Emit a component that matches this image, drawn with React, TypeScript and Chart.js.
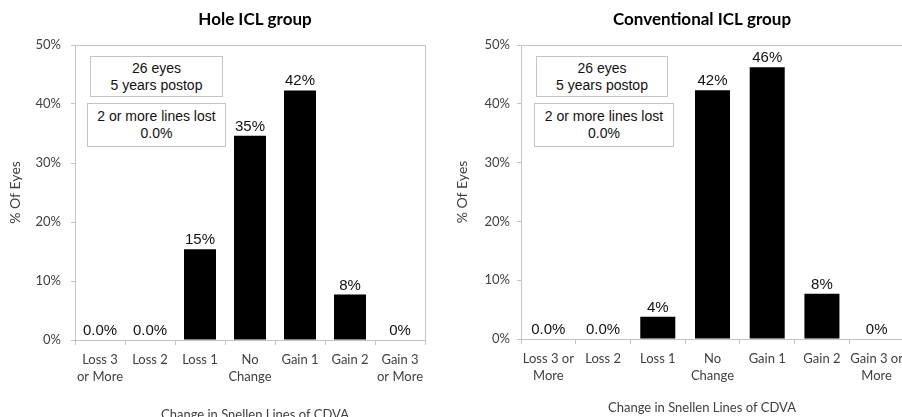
import React, { useEffect, useRef } from "react";
import { Chart, registerables } from "chart.js";

Chart.register(...registerables);

// ---- data ----
const holeCategories: string[][] = [
  ["Loss 3", "or More"],
  ["Loss 2"],
  ["Loss 1"],
  ["No", "Change"],
  ["Gain 1"],
  ["Gain 2"],
  ["Gain 3", "or More"],
];
const convCategories: string[][] = [
  ["Loss 3 or", "More"],
  ["Loss 2"],
  ["Loss 1"],
  ["No", "Change"],
  ["Gain 1"],
  ["Gain 2"],
  ["Gain 3 or", "More"],
];
const holeValues = [0, 0, 15.4, 34.6, 42.3, 7.7, 0];
const convValues = [0, 0, 3.8, 42.3, 46.2, 7.7, 0];
const holeValueLabels = ["0.0%", "0.0%", "15%", "35%", "42%", "8%", "0%"];
const convValueLabels = ["0.0%", "0.0%", "4%", "42%", "46%", "8%", "0%"];
const yMin = 0;
const yMax = 50;
const yStep = 10;
const holeTitle = "Hole ICL group";
const convTitle = "Conventional ICL group";
const xAxisTitle = "Change in Snellen Lines of CDVA";
const yAxisTitle = "% Of Eyes";
const boxEyes = ["26 eyes", "5 years postop"];
const boxLost = ["2 or more lines lost", "0.0%"];

const GRAY = "#c4c4c4";
const TEXT = "#404040";

const valueLabelPlugin = {
  id: "valueLabels",
  afterDatasetsDraw(chart: any, _args: any, opts: any) {
    const { ctx } = chart;
    const meta = chart.getDatasetMeta(0);
    ctx.save();
    ctx.font = '15px "Liberation Sans", Arial, sans-serif';
    ctx.fillStyle = "#111";
    ctx.textAlign = "center";
    ctx.textBaseline = "alphabetic";
    meta.data.forEach((bar: any, i: number) => {
      ctx.fillText(opts.labels[i], bar.x, bar.y - 5);
    });
    ctx.restore();
  },
};

type PanelProps = {
  left: number;
  width: number;
  height: number;
  title: string;
  categories: string[][];
  values: number[];
  valueLabels: string[];
  yAxisWidth: number;
  rightInset: number;
  yTickPad: number;
  yTitlePad: number;
  xHeight: number;
  subPad: number;
};

function Panel(p: PanelProps) {
  const ref = useRef<HTMLCanvasElement | null>(null);
  useEffect(() => {
    if (!ref.current) return;
    const chart = new Chart(ref.current, {
      type: "bar",
      data: {
        labels: p.categories,
        datasets: [
          {
            data: p.values,
            backgroundColor: "#000",
            borderWidth: 0,
            categoryPercentage: 1,
            barPercentage: 0.64,
          },
        ],
      },
      plugins: [valueLabelPlugin],
      options: {
        responsive: false,
        animation: false,
        layout: { padding: 0 },
        plugins: {
          legend: { display: false },
          tooltip: { enabled: false },
          title: {
            display: true,
            text: p.title,
            color: "#000",
            font: { family: "Lato, sans-serif", size: 17, weight: "bold", lineHeight: 1.2 },
            padding: { top: 9.8, bottom: 14.8 },
          },
          subtitle: {
            display: true,
            position: "bottom",
            text: xAxisTitle,
            color: TEXT,
            font: { family: "Lato, sans-serif", size: 13, lineHeight: 1.2 },
            padding: { top: 0, bottom: p.subPad },
          },
          valueLabels: { labels: p.valueLabels },
        } as any,
        scales: {
          x: {
            grid: {
              display: true,
              offset: true,
              drawOnChartArea: false,
              tickLength: 5,
              tickColor: GRAY,
            },
            border: { display: true, color: GRAY },
            ticks: {
              color: TEXT,
              font: { family: "Lato, sans-serif", size: 13, lineHeight: 17 / 13 },
              padding: 6,
              maxRotation: 0,
              autoSkip: false,
            },
            afterFit: (s: any) => {
              s.height = p.xHeight;
            },
          },
          y: {
            min: yMin,
            max: yMax,
            ticks: {
              stepSize: yStep,
              color: TEXT,
              padding: p.yTickPad,
              font: { family: "Lato, sans-serif", size: 13 },
              callback: (v: any) => v + "%",
            },
            grid: {
              display: true,
              tickLength: 4,
              tickColor: GRAY,
              color: (c: any) => (c.tick && c.tick.value === yMax ? GRAY : "rgba(0,0,0,0)"),
            },
            border: { display: true, color: GRAY },
            title: {
              display: true,
              text: yAxisTitle,
              color: TEXT,
              font: { family: "Lato, sans-serif", size: 14, lineHeight: 1.2 },
              padding: { top: p.yTitlePad, bottom: 0 },
            },
            afterFit: (s: any) => {
              s.width = p.yAxisWidth;
            },
          },
          yRight: {
            type: "linear",
            position: "right",
            display: true,
            grid: { display: false },
            ticks: { display: false },
            border: { display: true, color: GRAY },
            afterFit: (s: any) => {
              s.width = p.rightInset;
            },
          },
        },
      } as any,
    });
    return () => chart.destroy();
  }, []);
  return (
    <div style={{ position: "absolute", left: p.left, top: 0, width: p.width, height: p.height }}>
      <canvas ref={ref} width={p.width} height={p.height} style={{ display: "block" }} />
    </div>
  );
}

function TextBox(props: { left: number; top: number; width: number; height: number; lines: string[] }) {
  return (
    <div
      style={{
        position: "absolute",
        left: props.left,
        top: props.top,
        width: props.width,
        height: props.height,
        boxSizing: "border-box",
        border: "1px solid " + GRAY,
        background: "#fff",
        display: "flex",
        flexDirection: "column",
        justifyContent: "center",
        alignItems: "center",
        font: '14px "Liberation Sans", Arial, sans-serif',
        lineHeight: "17px",
        color: "#111",
      }}
    >
      {props.lines.map((l, i) => (
        <div key={i}>{l}</div>
      ))}
    </div>
  );
}

export default function App() {
  return (
    <div
      style={{
        position: "fixed",
        left: 0,
        top: 0,
        width: 902,
        height: 417,
        overflow: "hidden",
        background: "#fff",
      }}
    >
      <Panel
        left={0}
        width={510}
        height={425}
        title={holeTitle}
        categories={holeCategories}
        values={holeValues}
        valueLabels={holeValueLabels}
        yAxisWidth={75}
        rightInset={85}
        yTickPad={10}
        yTitlePad={7}
        xHeight={67.2}
        subPad={2.2}
      />
      <Panel
        left={450}
        width={504}
        height={425}
        title={convTitle}
        categories={convCategories}
        values={convValues}
        valueLabels={convValueLabels}
        yAxisWidth={71}
        rightInset={50}
        yTickPad={7}
        yTitlePad={4}
        xHeight={61.2}
        subPad={9.2}
      />
      <TextBox left={90} top={56} width={133} height={41} lines={boxEyes} />
      <TextBox left={87} top={103} width={139} height={44} lines={boxLost} />
      <TextBox left={536} top={56} width={132} height={41} lines={boxEyes} />
      <TextBox left={534} top={103} width={140} height={44} lines={boxLost} />
    </div>
  );
}
